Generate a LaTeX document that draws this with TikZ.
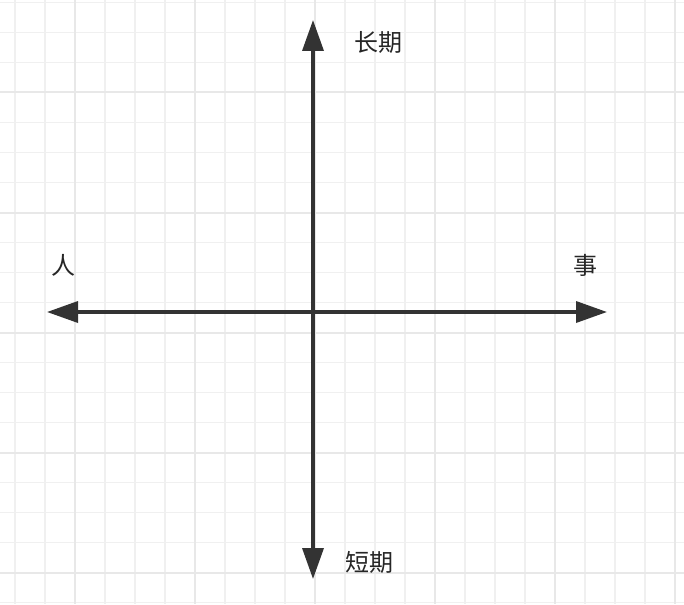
\documentclass[tikz,border=0pt]{standalone}
\usepackage{fontspec}
\newfontfamily\cjk{Noto Sans CJK SC}
\usetikzlibrary{arrows.meta}
\definecolor{gridminor}{RGB}{240,240,240}
\definecolor{gridmajor}{RGB}{232,232,232}
\definecolor{axiscol}{RGB}{51,51,51}
\tikzset{
  minorgrid/.style={draw=gridminor, line width=1.6pt},
  majorgrid/.style={draw=gridmajor, line width=2pt},
  axisline/.style={draw=axiscol, line width=3.5pt,
    {Triangle[length=31pt,width=21pt]}-{Triangle[length=31pt,width=21pt]}},
  lbl/.style={inner sep=0pt, font=\cjk\fontsize{24}{28}\selectfont, text=black!85}
}
\begin{document}
\begin{tikzpicture}[x=1pt,y=-1pt]
\useasboundingbox[fill=white] (0,0) rectangle (684,604);
% grid
\foreach \i in {0,...,22} {
  \pgfmathsetmacro{\gx}{15+30*\i}
  \draw[minorgrid] (\gx,0) -- (\gx,604);
}
\foreach \j in {0,...,20} {
  \pgfmathsetmacro{\gy}{2.5+30*\j}
  \draw[minorgrid] (0,\gy) -- (684,\gy);
}
\foreach \i in {0,...,5} {
  \pgfmathsetmacro{\gx}{75+120*\i}
  \draw[majorgrid] (\gx,0) -- (\gx,604);
}
\foreach \j in {0,...,4} {
  \pgfmathsetmacro{\gy}{92.5+120*\j}
  \draw[majorgrid] (0,\gy) -- (684,\gy);
}
% axes
\coordinate (top) at (313,20);
\coordinate (bottom) at (313,579);
\coordinate (left) at (47,312);
\coordinate (right) at (607,312);
\draw[axisline] (bottom) -- (top);
\draw[axisline] (left) -- (right);
% labels
\node[lbl] (long) at (378,42) {长期};
\node[lbl] (short) at (369,562) {短期};
\node[lbl] (ren) at (63,265) {人};
\node[lbl] (shi) at (585,265) {事};
\end{tikzpicture}
\end{document}
